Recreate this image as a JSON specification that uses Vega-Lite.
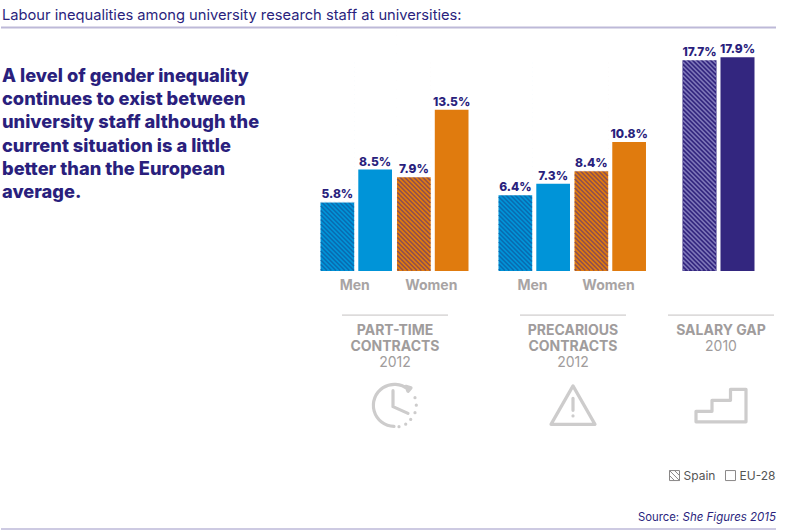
{
  "$schema": "https://vega.github.io/schema/vega-lite/v6.json",
  "padding": 0,
  "spacing": 24,
  "bounds": "flush",
  "background": "white",
  "config": {"view": {"stroke": null}, "text": {"font": "Inter"}},
  "params": [
    {"name": "hatch", "value": "M-16.5 -240.5l33 33M-16.5 -236l33 33M-16.5 -231.5l33 33M-16.5 -227l33 33M-16.5 -222.5l33 33M-16.5 -218l33 33M-16.5 -213.5l33 33M-16.5 -209l33 33M-16.5 -204.5l33 33M-16.5 -200l33 33M-16.5 -195.5l33 33M-16.5 -191l33 33M-16.5 -186.5l33 33M-16.5 -182l33 33M-16.5 -177.5l33 33M-16.5 -173l33 33M-16.5 -168.5l33 33M-16.5 -164l33 33M-16.5 -159.5l33 33M-16.5 -155l33 33M-16.5 -150.5l33 33M-16.5 -146l33 33M-16.5 -141.5l33 33M-16.5 -137l33 33M-16.5 -132.5l33 33M-16.5 -128l33 33M-16.5 -123.5l33 33M-16.5 -119l33 33M-16.5 -114.5l33 33M-16.5 -110l33 33M-16.5 -105.5l33 33M-16.5 -101l33 33M-16.5 -96.5l33 33M-16.5 -92l33 33M-16.5 -87.5l33 33M-16.5 -83l33 33M-16.5 -78.5l33 33M-16.5 -74l33 33M-16.5 -69.5l33 33M-16.5 -65l33 33M-16.5 -60.5l33 33M-16.5 -56l33 33M-16.5 -51.5l33 33M-16.5 -47l33 33M-16.5 -42.5l33 33M-16.5 -38l33 33M-16.5 -33.5l33 33M-16.5 -29l28.5 28.5M-16.5 -24.5l24 24M-16.5 -20l19.5 19.5M-16.5 -15.5l15 15M-16.5 -11l10.5 10.5M-16.5 -6.5l6 6M-16.5 -2l1.5 1.5"}
  ],
  "datasets": {
    "bars": [
      {"panel": "part-time", "sex": "Men", "region": "Spain", "value": 5.8},
      {"panel": "part-time", "sex": "Men", "region": "EU-28", "value": 8.5},
      {"panel": "part-time", "sex": "Women", "region": "Spain", "value": 7.9},
      {"panel": "part-time", "sex": "Women", "region": "EU-28", "value": 13.5},
      {"panel": "precarious", "sex": "Men", "region": "Spain", "value": 6.4},
      {"panel": "precarious", "sex": "Men", "region": "EU-28", "value": 7.3},
      {"panel": "precarious", "sex": "Women", "region": "Spain", "value": 8.4},
      {"panel": "precarious", "sex": "Women", "region": "EU-28", "value": 10.8},
      {"panel": "salary", "sex": "All", "region": "Spain", "value": 17.7},
      {"panel": "salary", "sex": "All", "region": "EU-28", "value": 17.9}
    ],
    "captions": [
      {"panel": "part-time", "name": ["PART-TIME", "CONTRACTS"], "year": "2012"},
      {"panel": "precarious", "name": ["PRECARIOUS", "CONTRACTS"], "year": "2012"},
      {"panel": "salary", "name": ["SALARY GAP"], "year": "2010"}
    ],
    "sexes": [{"sex": "Men"}, {"sex": "Women"}],
    "heading": [
      {
        "title": "Labour inequalities among university research staff at universities:",
        "headline": ["A level of gender inequality", "continues to exist between", "university staff although the", "current situation is a little", "better than the European", "average."],
        "source": "Source:",
        "publication": "She Figures 2015"
      }
    ]
  },
  "hconcat": [
    {
      "width": 293,
      "height": 530,
      "data": {"name": "heading"},
      "encoding": {
        "x": {"datum": 1, "type": "quantitative", "scale": {"domain": [0, 293]}, "axis": null}
      },
      "layer": [
        {
          "mark": {"type": "text", "align": "left", "baseline": "middle", "fontSize": 14.7, "color": "#2a1f7d"},
          "encoding": {
            "text": {"field": "title"},
            "y": {"datum": 21.4, "type": "quantitative", "scale": {"domain": [-21.69, 22.7], "nice": false, "zero": false}, "axis": null}
          }
        },
        {
          "mark": {"type": "rule", "color": "#bdb9d8", "strokeWidth": 2},
          "encoding": {
            "x": {"datum": 0, "type": "quantitative"},
            "x2": {"datum": 775},
            "y": {"datum": 20.4, "type": "quantitative"}
          }
        },
        {
          "mark": {"type": "text", "align": "left", "baseline": "top", "fontSize": 18.25, "fontWeight": 800, "lineHeight": 23.2, "color": "#2a1f7d"},
          "encoding": {
            "text": {"field": "headline"},
            "y": {"datum": 17.0, "type": "quantitative"}
          }
        },
        {
          "mark": {"type": "text", "align": "left", "baseline": "middle", "fontSize": 11.3, "color": "#2a1f7d"},
          "encoding": {
            "text": {"field": "source"},
            "x": {"datum": 637, "type": "quantitative"},
            "y": {"datum": -20.69, "type": "quantitative"}
          }
        },
        {
          "mark": {"type": "text", "align": "right", "baseline": "middle", "fontSize": 11.5, "fontStyle": "italic", "color": "#2a1f7d"},
          "encoding": {
            "text": {"field": "publication"},
            "x": {"datum": 775, "type": "quantitative"},
            "y": {"datum": -20.69, "type": "quantitative"}
          }
        },
        {
          "mark": {"type": "rule", "color": "#bdb9d8", "strokeWidth": 1.5},
          "encoding": {
            "x": {"datum": 0, "type": "quantitative"},
            "x2": {"datum": 775},
            "y": {"datum": -21.6, "type": "quantitative"}
          }
        }
      ]
    },
    {
      "width": 154,
      "height": 530,
      "layer": [
        {
          "data": {"name": "bars"},
          "transform": [{"filter": "datum.panel == 'part-time'"}],
          "mark": {"type": "bar"},
          "encoding": {
            "x": {"field": "sex", "type": "nominal", "scale": {"domain": ["Men", "Women"], "range": [2.5, 150.5], "paddingInner": 0.0654, "paddingOuter": 0}, "axis": null},
            "xOffset": {"field": "region", "type": "nominal", "scale": {"domain": ["Spain", "EU-28"], "paddingInner": 0.108, "paddingOuter": 0}},
            "y": {"field": "value", "type": "quantitative", "stack": null, "scale": {"domain": [-21.69, 22.7], "nice": false, "zero": false}, "axis": null},
            "color": {"field": "sex", "type": "nominal", "scale": {"domain": ["Men", "Women"], "range": ["#0094d8", "#e07b0e"]}, "legend": null}
          }
        },
        {
          "data": {"name": "bars"},
          "transform": [{"filter": "datum.panel == 'part-time' && datum.region == 'Spain'"}],
          "mark": {"type": "point", "shape": {"expr": "hatch"}, "size": 4, "filled": false, "strokeWidth": 1.6, "opacity": 1},
          "encoding": {
            "x": {"field": "sex", "type": "nominal"},
            "xOffset": {"field": "region", "type": "nominal"},
            "y": {"datum": 0, "type": "quantitative"},
            "stroke": {"field": "sex", "type": "nominal", "scale": {"domain": ["Men", "Women"], "range": ["#0a6bb0", "#8c4f52"]}, "legend": null}
          }
        },
        {
          "data": {"name": "bars"},
          "transform": [{"filter": "datum.panel == 'part-time' && datum.region == 'Spain'"}],
          "mark": {"type": "bar", "color": "white", "stroke": "white", "strokeWidth": 1.2},
          "encoding": {
            "x": {"field": "sex", "type": "nominal"},
            "xOffset": {"field": "region", "type": "nominal"},
            "y": {"field": "value", "type": "quantitative", "stack": null},
            "y2": {"datum": 20.2}
          }
        },
        {
          "data": {"name": "bars"},
          "transform": [{"filter": "datum.panel == 'part-time'"}, {"calculate": "format(datum.value, '.1f') + '%'", "as": "label"}],
          "mark": {"type": "text", "baseline": "bottom", "dy": -1, "fontSize": 12, "fontWeight": 800, "color": "#2a1f7d"},
          "encoding": {
            "x": {"field": "sex", "type": "nominal"},
            "xOffset": {"field": "region", "type": "nominal"},
            "y": {"field": "value", "type": "quantitative", "stack": null},
            "text": {"field": "label"}
          }
        },
        {
          "data": {"name": "sexes"},
          "mark": {"type": "text", "baseline": "middle", "fontSize": 14, "fontWeight": 700, "color": "#a8a4a4", "xOffset": -1.5},
          "encoding": {
            "x": {"field": "sex", "type": "nominal"},
            "y": {"datum": -1.25, "type": "quantitative"},
            "text": {"field": "sex"}
          }
        },
        {
          "data": {"name": "captions"},
          "transform": [{"filter": "datum.panel == 'part-time'"}],
          "mark": {"type": "rule", "color": "#c4c1c1", "strokeWidth": 1, "x": 24, "x2": 130},
          "encoding": {"y": {"datum": -3.69, "type": "quantitative"}}
        },
        {
          "data": {"name": "captions"},
          "transform": [{"filter": "datum.panel == 'part-time'"}],
          "mark": {"type": "text", "baseline": "top", "fontSize": 14, "fontWeight": 700, "lineHeight": 16, "color": "#a09c9c"},
          "encoding": {"y": {"datum": -4.43, "type": "quantitative"}, "text": {"field": "name"}}
        },
        {
          "data": {"name": "captions"},
          "transform": [{"filter": "datum.panel == 'part-time'"}],
          "mark": {"type": "text", "baseline": "middle", "fontSize": 14, "color": "#a09c9c"},
          "encoding": {"y": {"datum": -7.72, "type": "quantitative"}, "text": {"field": "year"}}
        },
        {
          "data": {"values": [{"icon": "clock"}]},
          "mark": {"type": "point", "filled": false, "size": 4, "stroke": "#cdcccc", "strokeWidth": 3.2, "strokeCap": "round", "strokeJoin": "round", "opacity": 1, "shape": "M-1 21A21 21 0 1 1 13 -16M11 -19L16 -17.5L13 -14ZM-2 -14.7L-2 1.3L13 8M20 -7.7l0 .1M21.3 -.3l0 .1M20 7.3l0 .1M15.7 14l0 .1M10.7 18.7l0 .1M4 21.3l0 .1"},
          "encoding": {"y": {"datum": -11.25, "type": "quantitative"}}
        }
      ]
    },
    {
      "width": 154,
      "height": 530,
      "layer": [
        {
          "data": {"name": "bars"},
          "transform": [{"filter": "datum.panel == 'precarious'"}],
          "mark": {"type": "bar"},
          "encoding": {
            "x": {"field": "sex", "type": "nominal", "scale": {"domain": ["Men", "Women"], "range": [2.5, 149.5], "paddingInner": 0.0654, "paddingOuter": 0}, "axis": null},
            "xOffset": {"field": "region", "type": "nominal", "scale": {"domain": ["Spain", "EU-28"], "paddingInner": 0.108, "paddingOuter": 0}},
            "y": {"field": "value", "type": "quantitative", "stack": null, "scale": {"domain": [-21.69, 22.7], "nice": false, "zero": false}, "axis": null},
            "color": {"field": "sex", "type": "nominal", "scale": {"domain": ["Men", "Women"], "range": ["#0094d8", "#e07b0e"]}, "legend": null}
          }
        },
        {
          "data": {"name": "bars"},
          "transform": [{"filter": "datum.panel == 'precarious' && datum.region == 'Spain'"}],
          "mark": {"type": "point", "shape": {"expr": "hatch"}, "size": 4, "filled": false, "strokeWidth": 1.6, "opacity": 1},
          "encoding": {
            "x": {"field": "sex", "type": "nominal"},
            "xOffset": {"field": "region", "type": "nominal"},
            "y": {"datum": 0, "type": "quantitative"},
            "stroke": {"field": "sex", "type": "nominal", "scale": {"domain": ["Men", "Women"], "range": ["#0a6bb0", "#8c4f52"]}, "legend": null}
          }
        },
        {
          "data": {"name": "bars"},
          "transform": [{"filter": "datum.panel == 'precarious' && datum.region == 'Spain'"}],
          "mark": {"type": "bar", "color": "white", "stroke": "white", "strokeWidth": 1.2},
          "encoding": {
            "x": {"field": "sex", "type": "nominal"},
            "xOffset": {"field": "region", "type": "nominal"},
            "y": {"field": "value", "type": "quantitative", "stack": null},
            "y2": {"datum": 20.2}
          }
        },
        {
          "data": {"name": "bars"},
          "transform": [{"filter": "datum.panel == 'precarious'"}, {"calculate": "format(datum.value, '.1f') + '%'", "as": "label"}],
          "mark": {"type": "text", "baseline": "bottom", "dy": -1, "fontSize": 12, "fontWeight": 800, "color": "#2a1f7d"},
          "encoding": {
            "x": {"field": "sex", "type": "nominal"},
            "xOffset": {"field": "region", "type": "nominal"},
            "y": {"field": "value", "type": "quantitative", "stack": null},
            "text": {"field": "label"}
          }
        },
        {
          "data": {"name": "sexes"},
          "mark": {"type": "text", "baseline": "middle", "fontSize": 14, "fontWeight": 700, "color": "#a8a4a4", "xOffset": -1.5},
          "encoding": {
            "x": {"field": "sex", "type": "nominal"},
            "y": {"datum": -1.25, "type": "quantitative"},
            "text": {"field": "sex"}
          }
        },
        {
          "data": {"name": "captions"},
          "transform": [{"filter": "datum.panel == 'precarious'"}],
          "mark": {"type": "rule", "color": "#c4c1c1", "strokeWidth": 1, "x": 24, "x2": 130},
          "encoding": {"y": {"datum": -3.69, "type": "quantitative"}}
        },
        {
          "data": {"name": "captions"},
          "transform": [{"filter": "datum.panel == 'precarious'"}],
          "mark": {"type": "text", "baseline": "top", "fontSize": 14, "fontWeight": 700, "lineHeight": 16, "color": "#a09c9c"},
          "encoding": {"y": {"datum": -4.43, "type": "quantitative"}, "text": {"field": "name"}}
        },
        {
          "data": {"name": "captions"},
          "transform": [{"filter": "datum.panel == 'precarious'"}],
          "mark": {"type": "text", "baseline": "middle", "fontSize": 14, "color": "#a09c9c"},
          "encoding": {"y": {"datum": -7.72, "type": "quantitative"}, "text": {"field": "year"}}
        },
        {
          "data": {"values": [{"icon": "warning"}]},
          "mark": {"type": "point", "filled": false, "size": 4, "stroke": "#cdcccc", "strokeWidth": 3.2, "strokeCap": "round", "strokeJoin": "round", "opacity": 1, "shape": "M0 -19.5L22 19L-22 19ZM0 -7L0 5M0 10.5l0 .1"},
          "encoding": {"y": {"datum": -11.25, "type": "quantitative"}}
        }
      ]
    },
    {
      "width": 94,
      "height": 530,
      "layer": [
        {
          "data": {"name": "bars"},
          "transform": [{"filter": "datum.panel == 'salary'"}],
          "mark": {"type": "bar", "color": "#33267f"},
          "encoding": {
            "x": {"field": "region", "type": "nominal", "scale": {"domain": ["Spain", "EU-28"], "range": [8.5, 80.5], "paddingInner": 0.105, "paddingOuter": 0}, "axis": null},
            "y": {"field": "value", "type": "quantitative", "stack": null, "scale": {"domain": [-21.69, 22.7], "nice": false, "zero": false}, "axis": null}
          }
        },
        {
          "data": {"name": "bars"},
          "transform": [{"filter": "datum.panel == 'salary' && datum.region == 'Spain'"}],
          "mark": {"type": "point", "shape": {"expr": "hatch"}, "size": 4, "filled": false, "stroke": "#8079ba", "strokeWidth": 1.6, "opacity": 1},
          "encoding": {
            "x": {"field": "region", "type": "nominal"},
            "y": {"datum": 0, "type": "quantitative"}
          }
        },
        {
          "data": {"name": "bars"},
          "transform": [{"filter": "datum.panel == 'salary' && datum.region == 'Spain'"}],
          "mark": {"type": "bar", "color": "white", "stroke": "white", "strokeWidth": 1.2},
          "encoding": {
            "x": {"field": "region", "type": "nominal"},
            "y": {"field": "value", "type": "quantitative", "stack": null},
            "y2": {"datum": 20.2}
          }
        },
        {
          "data": {"name": "bars"},
          "transform": [{"filter": "datum.panel == 'salary'"}, {"calculate": "format(datum.value, '.1f') + '%'", "as": "label"}],
          "mark": {"type": "text", "baseline": "bottom", "dy": -1, "fontSize": 12, "fontWeight": 800, "color": "#2a1f7d"},
          "encoding": {
            "x": {"field": "region", "type": "nominal"},
            "y": {"field": "value", "type": "quantitative", "stack": null},
            "text": {"field": "label"}
          }
        },
        {
          "data": {"name": "captions"},
          "transform": [{"filter": "datum.panel == 'salary'"}],
          "mark": {"type": "rule", "color": "#c4c1c1", "strokeWidth": 1, "x": -6, "x2": 100},
          "encoding": {"y": {"datum": -3.69, "type": "quantitative"}}
        },
        {
          "data": {"name": "captions"},
          "transform": [{"filter": "datum.panel == 'salary'"}],
          "mark": {"type": "text", "baseline": "top", "fontSize": 14, "fontWeight": 700, "lineHeight": 16, "color": "#a09c9c"},
          "encoding": {"y": {"datum": -4.43, "type": "quantitative"}, "text": {"field": "name"}}
        },
        {
          "data": {"name": "captions"},
          "transform": [{"filter": "datum.panel == 'salary'"}],
          "mark": {"type": "text", "baseline": "middle", "fontSize": 14, "color": "#a09c9c"},
          "encoding": {"y": {"datum": -6.38, "type": "quantitative"}, "text": {"field": "year"}}
        },
        {
          "data": {"values": [{"icon": "stairs"}]},
          "mark": {"type": "point", "filled": false, "size": 4, "stroke": "#cdcccc", "strokeWidth": 3.2, "strokeCap": "round", "strokeJoin": "round", "opacity": 1, "shape": "M-25 16.5L25 16.5L25 -16L9.5 -16L9.5 -5L-9 -5L-9 6L-25 6Z"},
          "encoding": {"y": {"datum": -11.25, "type": "quantitative"}}
        },
        {
          "data": {"values": [{"region": "Spain"}]},
          "mark": {"type": "point", "filled": false, "size": 4, "stroke": "#8a8888", "strokeWidth": 1, "opacity": 1, "xOffset": -25, "shape": "M-5 -5L5 -5L5 5L-5 5ZM-5 0L0 5M-5 -5L5 5M0 -5L5 0"},
          "encoding": {"x": {"field": "region", "type": "nominal"}, "y": {"datum": -17.13, "type": "quantitative"}}
        },
        {
          "data": {"values": [{"region": "Spain"}]},
          "mark": {"type": "text", "align": "left", "baseline": "middle", "fontSize": 12, "color": "#555555", "xOffset": -16},
          "encoding": {"x": {"field": "region", "type": "nominal"}, "y": {"datum": -17.13, "type": "quantitative"}, "text": {"field": "region"}}
        },
        {
          "data": {"values": [{"region": "EU-28"}]},
          "mark": {"type": "point", "filled": false, "size": 4, "stroke": "#8a8888", "strokeWidth": 1, "opacity": 1, "xOffset": -7, "shape": "M-5 -5L5 -5L5 5L-5 5Z"},
          "encoding": {"x": {"field": "region", "type": "nominal"}, "y": {"datum": -17.13, "type": "quantitative"}}
        },
        {
          "data": {"values": [{"region": "EU-28"}]},
          "mark": {"type": "text", "align": "left", "baseline": "middle", "fontSize": 12, "color": "#555555", "xOffset": 2},
          "encoding": {"x": {"field": "region", "type": "nominal"}, "y": {"datum": -17.13, "type": "quantitative"}, "text": {"field": "region"}}
        }
      ]
    }
  ]
}
